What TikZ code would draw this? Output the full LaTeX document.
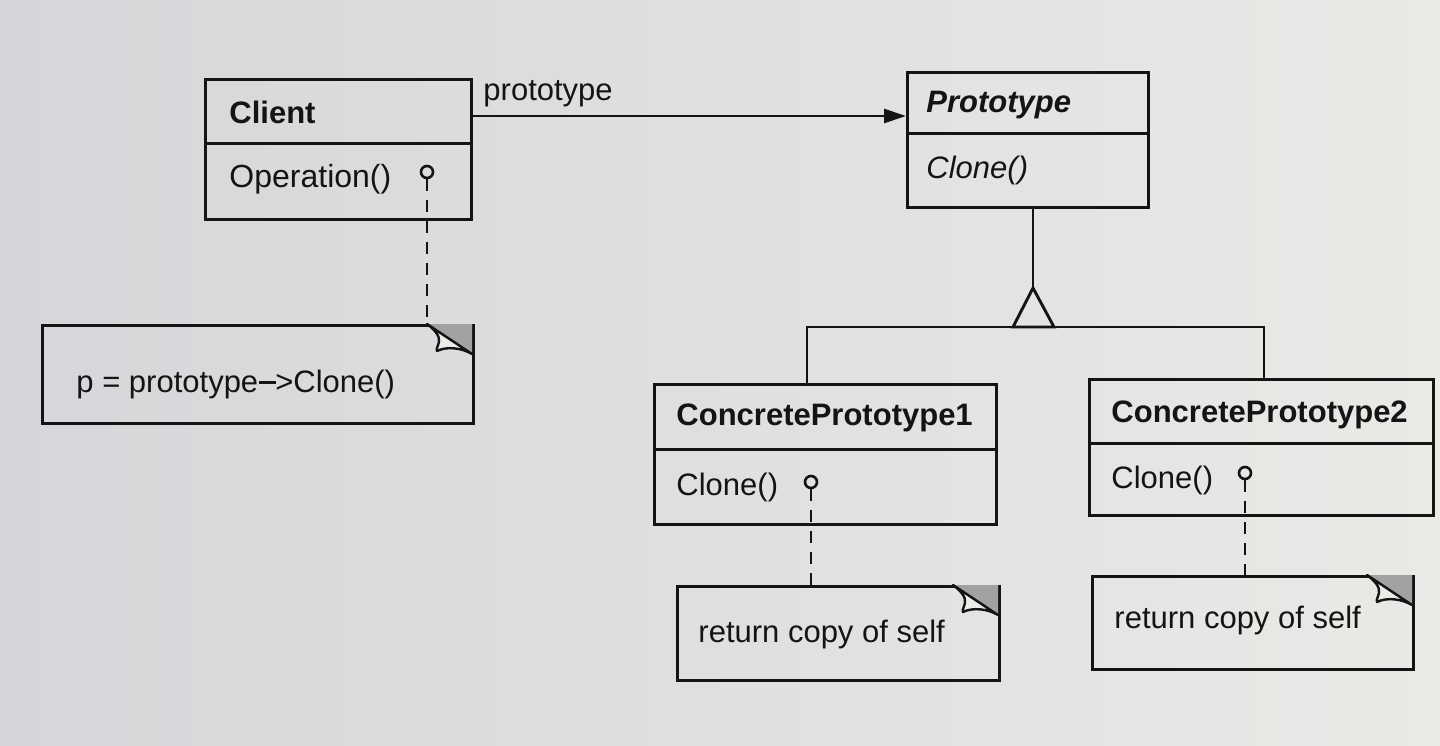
\documentclass[tikz,border=0pt]{standalone}
\usepackage{fontspec}
\setmainfont{Liberation Sans}
\usetikzlibrary{arrows.meta}
\definecolor{paperL}{HTML}{D4D6D9}
\definecolor{paperR}{HTML}{EAE9E6}
\definecolor{ink}{HTML}{141414}
\definecolor{foldgray}{HTML}{A2A2A2}
\definecolor{flap}{HTML}{EDECE9}
\begin{document}
\begin{tikzpicture}[x=1pt,y=-1pt,line width=2.9pt,draw=ink,
  cls/.style={draw=ink,rectangle,anchor=north west,inner sep=0pt,line width=2.9pt},
  txt/.style={anchor=base west,inner sep=0pt,text=ink,font=\fontsize{31}{36}\selectfont},
  btxt/.style={txt,font=\fontsize{31}{36}\selectfont\bfseries},
  bitxt/.style={txt,font=\fontsize{31}{36}\selectfont\bfseries\itshape},
  itxt/.style={txt,font=\fontsize{31}{36}\selectfont\itshape},
  pin/.style={circle,draw=ink,minimum size=12pt,inner sep=0pt,line width=2.6pt},
  anchorline/.style={draw=ink,line width=2.6pt,dash pattern=on 12pt off 9pt},
  fold/.pic={
    \fill[foldgray] (0,0) -- (45,0) -- (45,30) -- cycle;
    \filldraw[fill=flap,draw=ink,line width=2.4pt,line join=round]
      (0,0) -- (45,30) .. controls (35,24) and (20,22) .. (10,27)
      .. controls (9,25) and (11,22) .. (12,18)
      .. controls (13,12) and (8,6) .. (0,0) -- cycle;
  }]
\shade[left color=paperL,right color=paperR] (0,0) rectangle (1440,746);
\useasboundingbox (0,0) rectangle (1440,746);

% Client
\node[cls,minimum width=266pt,minimum height=64pt] (clienthead) at (204,78) {};
\node[cls,minimum width=266pt,minimum height=76pt] (clientbody) at (204,142) {};
\node[btxt] (clientname) at (228,124) {Client};
\node[txt,font=\fontsize{32}{36}\selectfont] (clientop) at (228,188) {Operation()};
\node[pin] (pin1) at (427,172) {};

% Prototype
\node[cls,minimum width=241pt,minimum height=61pt] (protohead) at (906,71) {};
\node[cls,minimum width=241pt,minimum height=74pt] (protobody) at (906,132) {};
\node[bitxt] (protoname) at (925,113) {Prototype};
\node[itxt] (protoop) at (925,179) {Clone()};

% association
\coordinate (ay) at (0,116);
\draw[-{Triangle[length=22pt,width=14pt]}] (clienthead.east |- ay) -- (protohead.west |- ay);
\node[txt] (assoclabel) at (482,101) {prototype};

% ConcretePrototype1
\node[cls,minimum width=342pt,minimum height=65pt] (cp1head) at (653,383) {};
\node[cls,minimum width=342pt,minimum height=75pt] (cp1body) at (653,448) {};
\node[btxt] (cp1name) at (675,425) {ConcretePrototype1};
\node[txt] (cp1op) at (675,495) {Clone()};
\node[pin] (pin2) at (811,482) {};

% ConcretePrototype2
\node[cls,minimum width=344pt,minimum height=64pt] (cp2head) at (1088,378) {};
\node[cls,minimum width=344pt,minimum height=72pt] (cp2body) at (1088,442) {};
\node[btxt] (cp2name) at (1110,422) {ConcretePrototype2};
\node[txt] (cp2op) at (1110,488) {Clone()};
\node[pin] (pin3) at (1245,473) {};

% inheritance
\coordinate (apex) at (1033,288);
\coordinate (tl) at (1013,327);
\coordinate (tr) at (1054,327);
\coordinate (b1) at (807,327);
\coordinate (b2) at (1264,327);
\draw (protobody.south -| apex) -- (apex);
\draw[line join=miter] (apex) -- (tl) -- (tr) -- cycle;
\draw (b1 |- cp1head.north) -- (b1) -- (b2) -- (b2 |- cp2head.north);

% notes
\node[cls,minimum width=431pt,minimum height=98pt] (note1) at (41,324) {};
\node[txt] (note1text) at (75,392) {p = prototype\kern1pt\rule[0.27em]{0.55em}{0.07em}\kern-1pt>Clone()};
\pic at (427,324) {fold};

\node[cls,minimum width=322pt,minimum height=94pt] (note2) at (676,585) {};
\node[txt] (note2text) at (697,642) {return copy of self};
\pic at (953,585) {fold};

\node[cls,minimum width=321pt,minimum height=93pt] (note3) at (1091,575) {};
\node[txt] (note3text) at (1113,628) {return copy of self};
\pic at (1367,575) {fold};

% anchor lines
\draw[anchorline] (pin1.south) -- (pin1.south |- note1.north);
\draw[anchorline] (pin2.south) -- (pin2.south |- note2.north);
\draw[anchorline] (pin3.south) -- (pin3.south |- note3.north);
\end{tikzpicture}
\end{document}
